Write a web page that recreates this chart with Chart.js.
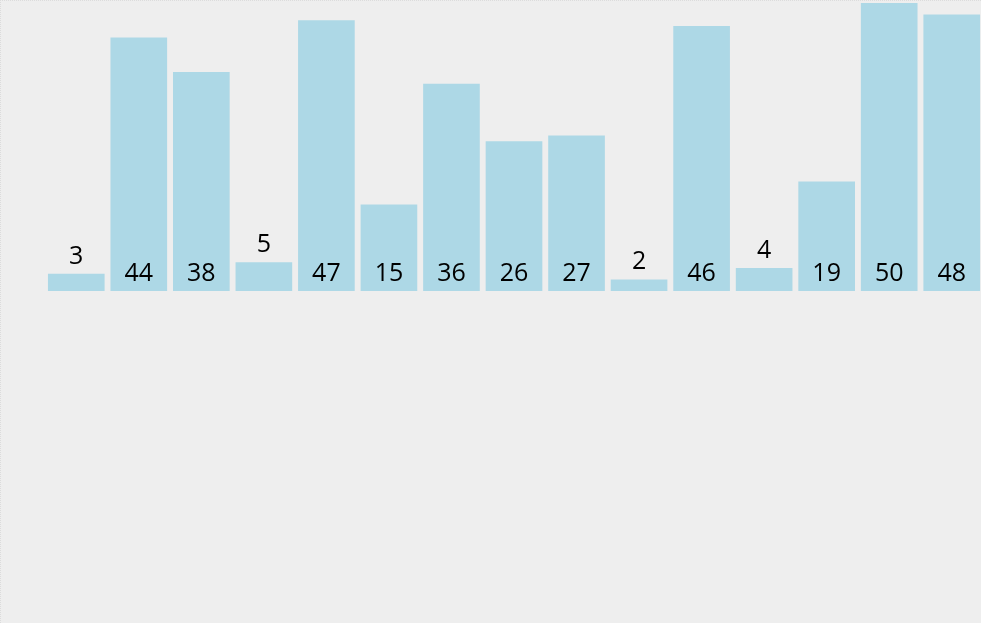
<!DOCTYPE html>
<html>
<head>
<meta charset="utf-8">
<script src="https://cdn.jsdelivr.net/npm/chart.js@4.4.0/dist/chart.umd.min.js"></script>
<style>
  html, body { margin: 0; padding: 0; background: #eeeeee; overflow: hidden; }
  body { width: 981px; height: 623px; position: relative; box-sizing: border-box; border-top: 1px dotted #dcdcdc; border-left: 1px dotted #dcdcdc; }
  #wrap { position: absolute; left: 44px; top: 2px; width: 938px; height: 288px; }
</style>
</head>
<body>
<div id="wrap"><canvas id="myChart"></canvas></div>
<script>
var labels = ['1','2','3','4','5','6','7','8','9','10','11','12','13','14','15'];
var values = [3, 44, 38, 5, 47, 15, 36, 26, 27, 2, 46, 4, 19, 50, 48];

// draw the numbers: inside at the bottom of tall bars, above the short ones
var valueLabels = {
    id: 'valueLabels',
    afterDatasetsDraw: function(chart) {
        var ctx = chart.ctx;
        var meta = chart.getDatasetMeta(0);
        ctx.save();
        ctx.font = '25px "Open Sans", "Noto Sans", sans-serif';
        ctx.fillStyle = '#000';
        ctx.textAlign = 'center';
        ctx.textBaseline = 'alphabetic';
        meta.data.forEach(function(bar, i) {
            var h = bar.base - bar.y;
            var y;
            if (h > 40) {
                y = bar.base - 10;
            } else {
                y = bar.y - 10;
            }
            ctx.fillText(String(values[i]), bar.x, y);
        });
        ctx.restore();
    }
};

var ctx = document.getElementById('myChart').getContext('2d');
var myChart = new Chart(ctx, {
    type: 'bar',
    data: {
        labels: labels,
        datasets: [{
            data: values,
            backgroundColor: '#add8e6',
            borderWidth: 0,
            barPercentage: 0.906,
            categoryPercentage: 1.0
        }]
    },
    options: {
        responsive: true,
        maintainAspectRatio: false,
        animation: false,
        layout: { padding: 0 },
        plugins: {
            legend: { display: false },
            tooltip: { enabled: false }
        },
        scales: {
            x: { display: false },
            y: { display: false, min: 0, max: 50 }
        }
    },
    plugins: [valueLabels]
});
</script>
</body>
</html>
